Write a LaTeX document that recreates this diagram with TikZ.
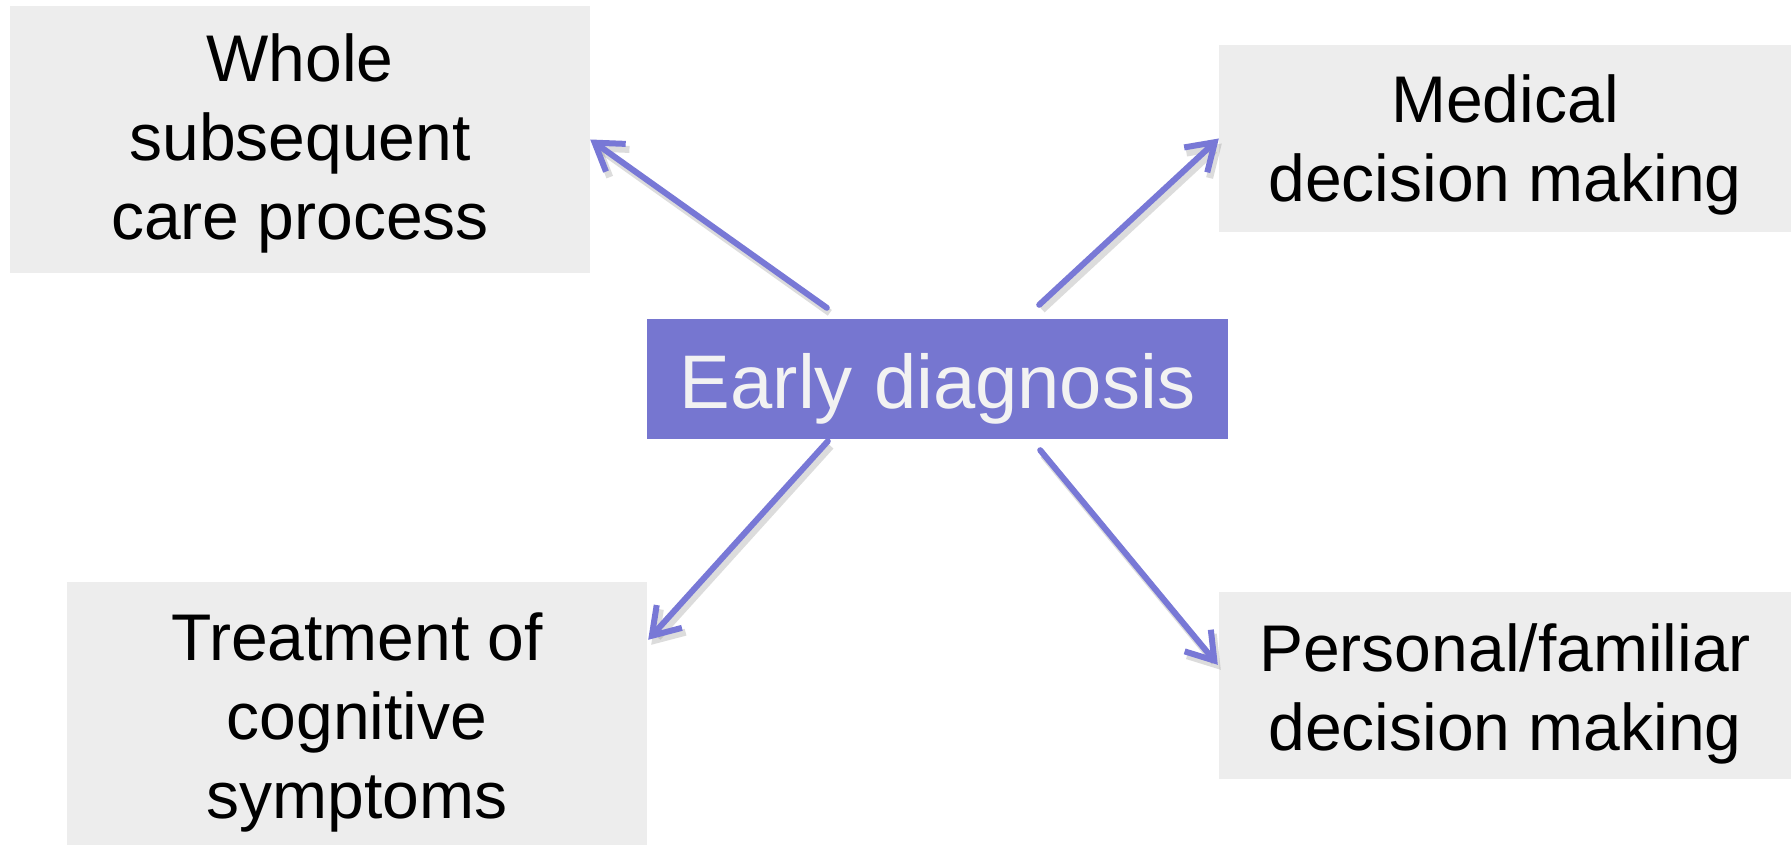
\documentclass[tikz,border=0pt]{standalone}
\usepackage{fontspec}
\setmainfont{Liberation Sans}
\usetikzlibrary{arrows.meta,calc}
\definecolor{boxgray}{HTML}{EDEDED}
\definecolor{purp}{HTML}{7676D0}
\definecolor{arrowc}{HTML}{7878D6}
\definecolor{lighttext}{HTML}{F2F2F2}
\begin{document}
\begin{tikzpicture}[x=1pt,y=-1pt,
  sidebox/.style={fill=boxgray, draw=none, inner sep=0pt, align=center,
    font=\fontsize{66}{79}\selectfont, text=black},
  centerbox/.style={fill=purp, draw=none, inner sep=0pt,
    font=\fontsize{76}{90}\selectfont, text=lighttext},
  conn/.style={draw=arrowc, line width=6pt, line cap=round,
    -{Straight Barb[length=26pt,width=34pt]},
    preaction={draw=black!45, opacity=0.3, line width=7pt,
      transform canvas={shift={(3,5)}}}}
]
\useasboundingbox (0,0) rectangle (1791,845);
\fill[white] (0,0) rectangle (1791,845);

\node[sidebox, minimum width=580pt, minimum height=267pt,
      text height=210pt, text depth=9pt] (whole) at (300,139.5)
  {Whole\\subsequent\\care process};
\node[sidebox, minimum width=572pt, minimum height=187pt,
      text height=140pt, text depth=13pt] (medical) at (1505,138.5)
  {Medical\\decision making};
\node[centerbox, minimum width=581pt, minimum height=120pt,
      text height=60pt, text depth=2pt] (early) at (937.5,379)
  {Early diagnosis};
\node[sidebox, minimum width=580pt, minimum height=263pt,
      text height=220pt, text depth=11pt] (treat) at (357,713.5)
  {Treatment of\\cognitive\\symptoms};
\node[sidebox, minimum width=572pt, minimum height=187pt,
      text height=140pt, text depth=11pt] (personal) at (1505,685.5)
  {Personal/familiar\\decision making};

\coordinate (t1) at ($(early.north west)+(180,-11)$);
\coordinate (t2) at ($(early.north east)+(-189,-14)$);
\coordinate (t3) at ($(early.south west)+(181,2)$);
\coordinate (t4) at ($(early.south east)+(-188,11)$);

\draw[conn] (t1) -- (whole.east);
\draw[conn] (t2) -- (medical.west);
\draw[conn] (t3) -- ($(treat.north east)+(1,58)$);
\draw[conn] (t4) -- ($(personal.north west)+(-1,73)$);
\end{tikzpicture}
\end{document}
